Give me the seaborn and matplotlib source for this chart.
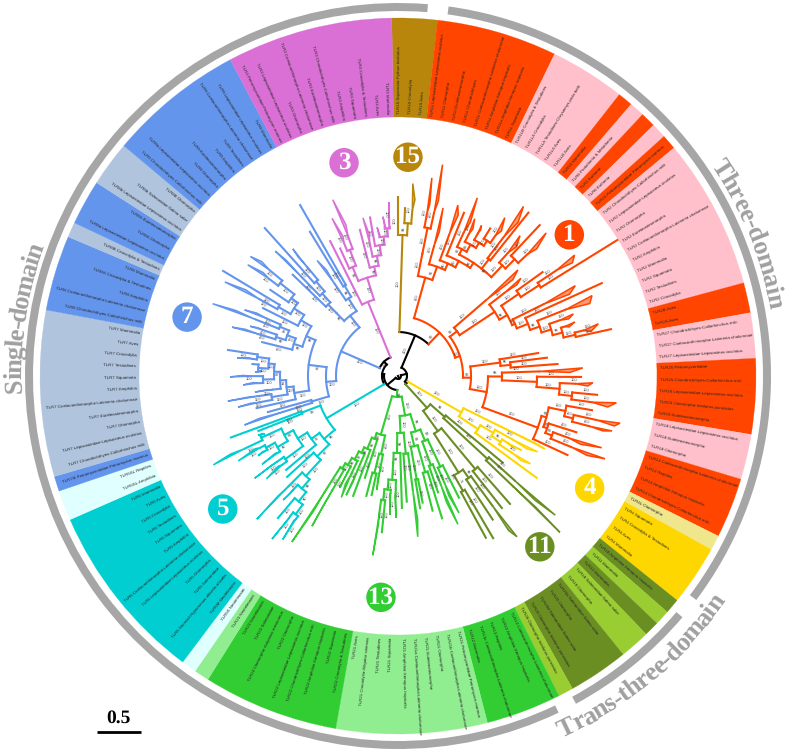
import numpy as np
import pandas as pd
import matplotlib
matplotlib.use("Agg")
import matplotlib.pyplot as plt
from matplotlib.font_manager import FontProperties
from matplotlib.lines import Line2D
import seaborn as sns

# ── Colours ───────────────────────────────────────────────────────────────
OR = "#ff4500"; PK = "#ffc0cb"; KH = "#f0e68c"; GD = "#ffd700"; OL = "#6b8e23"
YG = "#9acd32"; LM = "#32cd32"; LG = "#90ee90"; LC = "#e0ffff"; DT = "#00ced1"
CB = "#6495ed"; LS = "#b0c4de"; OC = "#da70d6"; GR = "#b8860b"
RING = "#a6a6a6"
DOMAIN_TXT = "#a0a0a0"

# ── Outer band: clockwise from the top ────────────────────────────────────
start_angle = -1.0
band_colors = [GR, OR, PK, OR, PK, OR, PK, OR, PK, OR, PK, OR, PK, OR, KH, GD, OL, YG, OL, YG, OL,
               YG, LM, LG, LM, LG, LC, DT, LC, CB, LS, CB, LS, CB, LS, CB, OC]
band_counts = [3, 8, 5, 1, 1, 1, 1, 1, 10, 2, 3, 5, 3, 4, 1, 4, 1, 1, 1, 2, 4,
               1, 5, 10, 9, 1, 1, 12, 2, 1, 11, 5, 1, 3, 3, 9, 11]
leaf_labels = [
    "TLR15 Squamata-Python bivittatus", "TLR15 Crocodylia", "TLR15 Aves",
    "TLR1L Lepisosteidae-Lepisosteus oculatus", "TLR1L Otomorpha", "TLR1I Euteleosteomorpha",
    "TLR1L Chondrichthyes", "TLR1L Coelacanthimorpha-Latimeria chalumnae",
    "TLR1L Amphibia-Xenopus tropicalis", "TLR1Lx Amphibia-Xenopus tropicalis", "TLR1L Squamata",
    "TLR1LB Crocodylia & Testudines", "TLR1LA Crocodylia", "TLR1LA Testudines-Chrysemys picta belli",
    "TLR1LA Aves", "TLR1LB Aves",
    "TLR10 Mammalia", "TLR6 Prototheria & Metatheria", "TLR1 Eutheria", "TLR6 Eutheria",
    "TLR24 Petromyzontidae-Petromyzon marinus",
    "TLR2 Chondrichthyes-Callorhinchus milii", "TLR2 Lepisosteidae-Lepisosteus oculatus",
    "TLR2 Otomorpha", "TLR2 Euteleosteomorpha", "TLR2 Coelacanthimorpha-Latimeria chalumnae",
    "TLR2 Amphibia", "TLR2 Mammalia", "TLR2 Squamata", "TLR2 Testudines", "TLR2 Crocodylia",
    "TLR2B Aves", "TLR2A Aves",
    "TLR27 Chondrichthyes-Callorhinchus milii", "TLR27 Coelacanthimorpha-Latimeria chalumnae",
    "TLR27 Lepisosteidae-Lepisosteus oculatus",
    "TLR25 Petromyzontidae", "TLR25 Chondrichthyes-Callorhinchus milii",
    "TLR25 Lepisosteidae-Lepisosteus oculatus", "TLR25 Otomorpha-Ictalurus punctatus",
    "TLR25 Euteleosteomorpha",
    "TLR18 Lepisosteidae-Lepisosteus oculatus", "TLR18 Euteleosteomorpha", "TLR18 Otomorpha",
    "TLR14 Coelacanthimorpha-Latimeria chalumnae", "TLR14 Reptiles",
    "TLR14 Amphibia-Xenopus tropicalis", "TLR14 Chondrichthyes-Callorhinchus milii",
    "TLR4L Otomorpha", "TLR4 Squamata", "TLR4 Crocodylia & Testudines", "TLR4 Aves", "TLR4 Mammalia",
    "TLR16 Amphibia-Xenopus tropicalis", "TLR11 Mammalia", "TLR12 Mammalia",
    "TLR18 Salmonidae-Salmo salar", "TLR19 Otomorpha",
    "TLR20a Salmonidae-Salmo salar", "TLR20 Otomorpha", "TLR20d Salmonidae-Salmo salar",
    "TLR20 Otomorpha-Ictalurus punctatus", "TLR26 Otomorpha-Ictalurus punctatus",
    "TLR13 Coelacanthimorpha-Latimeria chalumnae", "TLR13 Amphibia-Xenopus tropicalis", "TLR13 Reptiles",
    "TLR13c Coelacanthimorpha-Latimeria chalumnae", "TLR12 Mammalia",
    "TLR21 Petromyzontidae-Petromyzon marinus", "TLR21b Coelacanthimorpha-Latimeria chalumnae",
    "TLR21 Otomorpha", "TLR21 Euteleosteomorpha", "TLR21a Coelacanthimorpha-Latimeria chalumnae",
    "TLR21 Amphibia-Xenopus tropicalis", "TLR21 Squamata", "TLR21 Testudines",
    "TLR21 Crocodylia-Alligator sinensis", "TLR21 Aves",
    "TLR22 Crocodylia & Testudines", "TLR22 Squamata", "TLR22 Amphibia-Xenopus tropicalis",
    "TLR22 Chondrichthyes-Callorhinchus milii", "TLR22 Lepisosteidae-Lepisosteus oculatus",
    "TLR22 Otomorpha", "TLR22 Otomorpha-Astyanax mexicanus", "TLR23 Salmonidae", "TLR23 Neoteleostei",
    "TLR23 Neoteleostei", "TLR5S Neoteleostei",
    "TLR5M Neoteleostei", "TLR5 Stomiati-Hypomesus altivelis altivelis", "TLR5 Salmonidae",
    "TLR5 Otomorpha", "TLR5 Lepisosteidae-Lepisosteus oculatus",
    "TLR5 Coelacanthimorpha-Latimeria chalumnae", "TLR5 Amphibia", "TLR5 Squamata", "TLR5 Testudines",
    "TLR5 Crocodylia", "TLR5 Aves", "TLR5 Mammalia",
    "TLR5SL Amphibia", "TLR5SL Reptiles",
    "TLR7/8 Petromyzontidae-Petromyzon marinus",
    "TLR7 Chondrichthyes-Callorhinchus milii", "TLR7 Lepisosteidae-Lepisosteus oculatus",
    "TLR7 Otomorpha", "TLR7 Euteleosteomorpha", "TLR7 Coelacanthimorpha-Latimeria chalumnae",
    "TLR7 Amphibia", "TLR7 Squamata", "TLR7 Testudines", "TLR7 Crocodylia", "TLR7 Aves", "TLR7 Mammalia",
    "TLR8 Chondrichthyes-Callorhinchus milii", "TLR8 Coelacanthimorpha-Latimeria chalumnae",
    "TLR8 Amphibia", "TLR8A Crocodylia & Testudines", "TLR8 Mammalia",
    "TLR8B Crocodylia & Testudines",
    "TLR8a Lepisosteidae-Lepisosteus oculatus", "TLR8A Otomorpha", "TLR8A Euteleosteomorpha",
    "TLR8b Lepisosteidae-Lepisosteus oculatus", "TLR8b Salmonidae-Salmo salar", "TLR8B Otomorpha",
    "TLR9 Chondrichthyes-Callorhinchus milii", "TLR9a Lepisosteidae-Lepisosteus oculatus",
    "TLR9 Otomorpha", "TLR9 Euteleosteomorpha", "TLR9 Amphibia", "TLR9 Testudines",
    "TLR9 Coelacanthimorpha-Latimeria chalumnae", "TLR9 Lepisosteidae-Lepisosteus oculatus", "TLR9 Mammalia",
    "TLR3 Petromyzontidae-Petromyzon marinus", "TLR3 Lepisosteidae-Lepisosteus oculatus",
    "TLR3 Otomorpha", "TLR3 Coelacanthimorpha-Latimeria chalumnae", "TLR3 Euteleosteomorpha",
    "TLR3 Chondrichthyes-Callorhinchus milii", "TLR3 Amphibia", "TLR3 Squamata",
    "TLR3 Crocodylia & Testudines", "TLR3 Aves", "TLR3 Mammalia",
]

# ── Domain ring and curved captions ───────────────────────────────────────
domain_starts = [7.8, 130.3, 154.5]
domain_ends = [126.9, 151.5, 364.6]
domain_names = ["Three-domain", "Trans-three-domain", "Single-domain"]
domain_from = [56.0, 155.5, 267.5]
domain_to = [79.8, 124.5, 290.0]
domain_base = [377.0, 397.0, 377.0]

# ── Numbered clade badges ─────────────────────────────────────────────────
badge_names = ["15", "1", "4", "11", "13", "5", "7", "3"]
badge_colors = [GR, OR, GD, OL, LM, DT, CB, OC]
badge_angle = [2.6, 50.5, 120.3, 140.3, 184.4, 232.8, 285.6, 345.8]
badge_radius = [219, 222, 222, 222, 222, 220, 219, 220]

scale_label = "0.5"


# ── Tree: angle in degrees, length in pixels from the centre ──────────────
def T(a, r, a2=None, r2=None, s="100"):
    return {"a": a, "r": r, "a2": a2, "r2": r2, "s": s, "kids": None}


def N(r, s, *kids, c=None):
    return {"r": r, "s": s, "kids": list(kids), "c": c}


clade_15 = N(141, "100", T(0, 179), N(153, "98", T(2.4, 168), T(4.4, 193, 5.5, 177)), c=GR)

clade_1 = N(60, "62",
    N(102, "100",
        N(125, "100", N(151, "100", T(9.7, 201, 10.5, 175), T(11.9, 216, 13, 180))),
        N(116, "91",
            T(15, 174, 16, 150),
            N(123, "90",
                T(19.3, 181, 20.5, 172),
                N(130, "80",
                    T(22, 176),
                    N(136, "98",
                        N(142, "86",
                            T(24, 195, 25.2, 170),
                            N(150, "85", T(26, 175, 27, 165),
                                N(156, "100", T(29, 172, 29.5, 168),
                                    N(162, "100", T(32, 174), T(34, 191, 35.5, 178))))),
                        N(136, "98",
                            N(148, "100", T(36.5, 211, 38, 195), T(38.6, 209)),
                            N(152, "100", T(41, 186, 42.5, 175),
                                N(165, "100", T(43.2, 207), T(46, 206, 47.5, 188))))))))),
    N(65, "100",
        N(74, "56",
            T(48.5, 160, 50, 150),
            N(116, "100",
                T(51.5, 157, 52.5, 150),
                N(125, "96",
                    N(146, "100", T(54.3, 178),
                        N(168, "100", T(55.6, 214, 57, 208), T(58.2, 258))),
                    N(128, "92",
                        T(63, 199, 64.5, 190),
                        N(140, "100", T(65.5, 224),
                            N(150, "98", T(67.5, 210, 69.3, 205),
                                N(160, "100", T(70.5, 186, 71.5, 180),
                                    N(170, "96", T(73, 185, 74, 178),
                                        N(182, "100", T(75.4, 207, 77, 198), T(77.6, 218)))))))))),
        N(73, "92",
            N(103, "100", T(80.7, 142), N(113, "96", T(83, 150), T(85.7, 160))),
            N(90, "100",
                N(104, "98", T(87.5, 185, 88.8, 172),
                    N(139, "100", T(90.3, 183),
                        N(162, "100", T(92, 195, 93, 190),
                            N(175, "100", T(95.4, 200), T(97, 220, 98.4, 212))))),
                N(149, "100",
                    N(154, "68",
                        N(171, "100", T(100, 197),
                            N(180, "100", T(102, 227, 103, 222), T(104.4, 221, 105, 212))),
                        N(158, "82", T(107.5, 187),
                            N(165, "85", T(109.4, 216, 110.5, 195), T(111.8, 223, 112.8, 205)))),
                    T(115, 187))))),
    c=OR)

clade_4 = N(73, "100",
    T(116.4, 164, 116, 150),
    N(96, "100",
        N(111, "100", T(118.5, 159, 119.5, 148),
            N(122, "95", T(121, 144, 121.8, 133), T(123.5, 159, 124.5, 150))),
        T(126.3, 172)),
    c=GD)

clade_11 = N(43, "100",
    N(62, "96", T(129.6, 136),
        N(122, "100", T(131.5, 210, 132.2, 185), T(134, 225, 133.6, 190))),
    N(68, "100",
        N(121, "100", T(138.8, 170), T(141.8, 168)),
        N(114, "100",
            N(124, "98", T(143.5, 200, 144.4, 190), T(146.6, 172)),
            N(132, "71", T(149.6, 188), T(151.5, 184)))),
    c=OL)

clade_13 = N(21, "95",
    N(40, "100",
        N(58, "98",
            N(70, "88",
                N(100, "100", T(153.4, 136), T(156, 150, 157, 130)),
                N(95, "100", T(158, 160, 159, 135), T(161, 123))),
            N(72, "81",
                N(100, "100", T(162.8, 149), T(165.6, 139)),
                N(105, "100", T(169, 129), T(170.5, 134)))),
        N(57, "100",
            N(78, "100", T(173, 162, 172.2, 145), T(176, 126)),
            N(77, "96", T(178.3, 132),
                N(87, "98",
                    N(104, "100", T(180.8, 142, 181.5, 120),
                        N(114, "100", T(183.3, 139, 184, 120),
                            N(125, "100", T(185.9, 157), T(188, 181, 187.5, 150)))))))),
    N(61, "100",
        N(80, "100", T(190.5, 116, 191.2, 105), N(100, "100", T(192.5, 122), T(194.8, 124))),
        N(67, "85", T(198, 107),
            N(79, "95", T(200.5, 128),
                N(85, "98", T(203.5, 130, 203, 115),
                    N(94, "97", T(205, 134, 206, 120),
                        N(102, "98", T(207.5, 126, 207.7, 115),
                            N(108, "100", T(209.8, 173, 210, 150), T(212.6, 197, 212, 160)))))))),
    c=LM)

clade_5 = N(83, "100",
    N(97, "96",
        N(114, "97", T(227.7, 150),
            N(136, "100",
                N(148, "98",
                    N(160, "90",
                        N(172, "100", T(215.2, 200, 215.8, 178), T(217.7, 206, 217.4, 180)),
                        T(220.2, 186)),
                    T(222.8, 169, 222.5, 160)),
                T(224.6, 201, 225, 170))),
        N(107, "76",
            T(230, 146),
            N(118, "100",
                N(140, "100", T(232, 167, 233, 150), T(234.5, 176, 234.8, 155)),
                N(128, "85",
                    N(140, "90", T(237, 162, 237.8, 145),
                        N(150, "100", T(240.3, 161, 240.8, 155), T(242, 181, 243, 160))),
                    N(150, "100", T(244.3, 205, 245, 185), T(247.1, 152, 246.5, 145)))))),
    N(103, "89", T(248.5, 150), T(249.8, 178)),
    c=DT)

clade_7 = N(62, "100",
    N(72, "100",
        N(90, "100", T(252.3, 161, 253, 145), T(254.5, 135)),
        N(90, "97",
            N(105, "100", T(257.2, 145),
                N(112, "100",
                    N(128, "100", T(259, 163, 259.5, 150), T(261.6, 172, 262, 150)),
                    N(118, "14", T(263.6, 144, 264, 132),
                        N(124, "87",
                            N(135, "100", T(266.7, 155, 267.4, 145), T(269.7, 168, 270.2, 155)),
                            N(130, "100",
                                N(140, "100", T(271.6, 143, 272.2, 136), T(274.7, 146)),
                                N(142, "100", T(276.4, 162, 277, 150), T(278.7, 172))))))),
            N(100, "98",
                N(109, "99", T(284, 140),
                    N(118, "100",
                        N(128, "99", T(286.4, 173, 287, 160), T(288.6, 156, 289, 148)),
                        N(128, "24", T(291.3, 199, 292, 175), T(293.3, 167, 294, 155)))),
                N(112, "100", T(296.7, 151),
                    N(124, "100",
                        N(138, "100", T(298.5, 197, 299.5, 175), T(301, 204)),
                        N(132, "100", T(304, 154),
                            N(150, "100", T(306.5, 187, 307.5, 170), T(309, 190, 310, 178)))))))),
    N(77, "100",
        N(88, "95",
            N(100, "100", T(313.9, 146),
                N(112, "100", T(315.5, 175, 316, 160),
                    N(125, "100", T(318, 199), T(320.4, 165, 320, 155))))),
        N(92, "100", T(325, 141, 326, 128),
            N(105, "96", T(328.6, 169), T(330.2, 197)))),
    c=CB)

clade_3 = N(80, "100",
    T(333.3, 151),
    N(103, "100",
        N(118, "93", T(335.6, 140),
            N(135, "100", T(337.3, 171, 338.5, 150), T(339.7, 188, 341, 160))),
        N(112, "90", T(345.4, 151),
            N(122, "96", T(347.5, 162, 348.5, 145),
                N(132, "100", T(350, 161),
                    N(140, "100", T(352, 150, 352.8, 140),
                        N(148, "100", T(354.6, 160, 355.2, 150), T(357, 174, 356.6, 150))))))),
    c=OC)

tree_root = N(3, "",
    N(9, "",
        N(44, "100", clade_15, clade_1),
        N(11, "", clade_4, clade_11)),
    N(14, "",
        clade_13,
        N(16, "",
            clade_5,
            N(20, "72", clade_7, clade_3))),
    c="#000000")


def place(node):
    if node["kids"] is None:
        node["ang"] = node["a"] if node["a2"] is None else (node["a"] + node["a2"]) / 2
    else:
        angs = [place(k) for k in node["kids"]]
        node["lo"], node["hi"] = min(angs), max(angs)
        node["ang"] = (node["lo"] + node["hi"]) / 2
    return node["ang"]


branches, triangles, supports = [], [], []


def walk(node, parent_r, color):
    a = node["ang"]
    if node["kids"] is None:
        end = node["r"]
        if node["a2"] is not None:
            end = parent_r + 0.55 * (min(node["r"], node["r2"]) - parent_r)
            triangles.append((color, [a, node["a"], node["a2"]], [end, node["r"], node["r2"]]))
        branches.append((color, [a, a], [parent_r, end]))
        if node["r"] - parent_r > 24:
            supports.append((a, parent_r + 14, node["s"]))
        return
    color = node["c"] or color
    branches.append((color, [a, a], [parent_r, node["r"]]))
    if node["s"]:
        supports.append((a, (parent_r + node["r"]) / 2, node["s"]))
    n = max(2, int(node["hi"] - node["lo"]) + 2)
    branches.append((color, list(np.linspace(node["lo"], node["hi"], n)), [node["r"]] * n))
    for k in node["kids"]:
        walk(k, node["r"], color)


def light(c):
    rgb = np.array(matplotlib.colors.to_rgb(c))
    return tuple(rgb * 0.55 + 0.45)


def curved_text(s, a0, a1, base, size):
    fp = FontProperties(family="Liberation Serif", weight="bold", size=size)
    rend = fig.canvas.get_renderer()
    w = np.array([rend.get_text_width_height_descent(ch, fp, False)[0] + 1.2 for ch in s])
    mid = (np.cumsum(w) - w / 2) / w.sum()
    for ch, f in zip(s, mid):
        a = a0 + (a1 - a0) * f
        rot = -a if a1 > a0 else 180 - a
        ax.text(np.radians(a), base, ch, fontproperties=fp, color=DOMAIN_TXT, ha="center",
                va="baseline", rotation=rot, rotation_mode="anchor")


sns.set_theme(style="white")
plt.rcParams["font.family"] = ["Liberation Sans", "DejaVu Sans"]
plt.rcParams["lines.solid_capstyle"] = "projecting"
plt.rcParams["text.hinting"] = "none"

fig = plt.figure(figsize=(7.87, 7.51), dpi=100, facecolor="white")
ax = fig.add_axes([22 / 787, -1 / 751, 752 / 787, 752 / 751], projection="polar")
ax.set_theta_zero_location("N")
ax.set_theta_direction(-1)

# outer band
step = 360.0 / sum(band_counts)
edges = start_angle + np.concatenate([[0], np.cumsum(band_counts)]) * step
ax.bar(np.radians(edges[:-1]), 358 - 259, width=np.radians(np.diff(edges)), bottom=259,
       align="edge", color=band_colors, edgecolor=band_colors, linewidth=0.2)

for i, lab in enumerate(leaf_labels):
    a = (start_angle + (i + 0.5) * step) % 360
    right = a < 180
    ax.text(np.radians(a), 262, lab, fontsize=3.15, color="#262626", va="center",
            ha="left" if right else "right", rotation=90 - a if right else 270 - a,
            rotation_mode="anchor")

# domain ring
ds, de = np.array(domain_starts), np.array(domain_ends)
ax.bar(np.radians(ds), 8, width=np.radians(de - ds), bottom=365, align="edge", color=RING, linewidth=0)
for name, a0, a1, b in zip(domain_names, domain_from, domain_to, domain_base):
    curved_text(name, a0, a1, b, 19)

# tree
place(tree_root)
walk(tree_root, 0, "#000000")
df = pd.DataFrame(
    [(i, c, np.radians(a), r) for i, (c, aa, rr) in enumerate(branches) for a, r in zip(aa, rr)],
    columns=["branch", "clade", "theta", "r"],
)
palette = {c: c for c in df["clade"].unique()}
sns.lineplot(data=df, x="theta", y="r", hue="clade", units="branch", estimator=None, sort=False,
             palette=palette, linewidth=1.5, legend=False, ax=ax)

for c, aa, rr in triangles:
    ax.fill(np.radians(aa), rr, facecolor=light(c), edgecolor=c, linewidth=1.1, joinstyle="miter")

for a, r, s in supports:
    aa = a % 360
    off = np.degrees(3.2 / r)
    ax.text(np.radians(a - off), r, s, fontsize=2.9, color="#444444", ha="center", va="center",
            rotation=90 - aa if aa < 180 else 270 - aa, rotation_mode="anchor")

# badges
sns.scatterplot(x=np.radians(badge_angle), y=badge_radius, hue=badge_names, palette=dict(zip(badge_names, badge_colors)),
                s=450, linewidth=0, legend=False, ax=ax, zorder=4)
for name, a, r in zip(badge_names, badge_angle, badge_radius):
    ax.text(np.radians(a), r, name, fontsize=18, family="Liberation Serif", weight="bold",
            color="white", ha="center", va="center", zorder=5)

ax.set_rlim(0, 376)
ax.set_axis_off()

# scale bar
fig.text(118 / 787, 1 - 718 / 751, scale_label, fontsize=14, family="Liberation Serif", weight="bold",
         ha="center", va="center", color="black")
fig.add_artist(Line2D([97 / 787, 141 / 787], [1 - 732 / 751, 1 - 732 / 751], color="black", linewidth=2,
                      solid_capstyle="butt"))

fig.savefig("out.png", dpi=100, facecolor="white")
